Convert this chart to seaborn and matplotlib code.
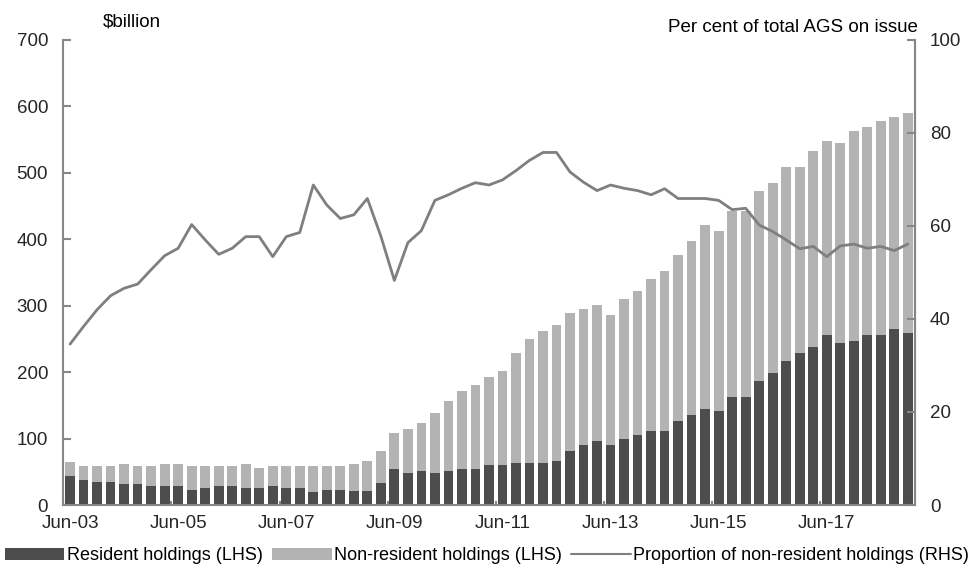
import numpy as np
import pandas as pd
import seaborn as sns
import matplotlib.pyplot as plt
from matplotlib.patches import Patch
from matplotlib.lines import Line2D

# quarterly, Jun-03 .. Dec-18
quarters = pd.date_range('2003-06-01', periods=63, freq='3MS')
quarter_labels = [d.strftime('%b-%y') for d in quarters]
tick_labels = ['Jun-03', 'Jun-05', 'Jun-07', 'Jun-09', 'Jun-11', 'Jun-13', 'Jun-15', 'Jun-17']

# $billion
resident = [43, 37, 34, 34, 31, 31, 28, 28, 28, 22, 25,
            28, 28, 25, 25, 28, 25, 25, 19, 22, 22, 21,
            21, 33, 54, 48, 51, 48, 51, 54, 54, 60, 60,
            63, 63, 63, 66, 81, 90, 96, 90, 99, 105,
            111, 111, 126, 135, 144, 141, 163, 163, 187, 199, 217,
            229, 238, 256, 244, 247, 256, 256, 265, 259]
non_resident = [21, 21, 24, 24, 30, 27, 30, 33, 33, 36, 33,
                30, 30, 36, 30, 30, 33, 33, 39, 36, 36, 40,
                45, 48, 54, 66, 72, 91, 106, 118, 127, 133, 142,
                166, 187, 199, 205, 208, 205, 205, 196, 211, 217,
                229, 241, 250, 263, 278, 272, 280, 280, 286, 286, 292,
                280, 295, 292, 301, 316, 313, 322, 319, 331]
# per cent of total AGS on issue
non_resident_share = [34.6, 38.4, 42.0, 45.0, 46.6, 47.5, 50.6, 53.6, 55.2, 60.3, 57.0,
                      53.9, 55.2, 57.7, 57.7, 53.4, 57.7, 58.6, 68.8, 64.5, 61.6, 62.4,
                      65.9, 57.8, 48.3, 56.4, 59.0, 65.5, 66.7, 68.1, 69.3, 68.8, 69.9,
                      71.9, 74.1, 75.8, 75.8, 71.6, 69.4, 67.6, 68.8, 68.1, 67.6,
                      66.7, 68.0, 65.9, 65.9, 65.9, 65.5, 63.5, 63.8, 60.2, 58.8, 57.0,
                      55.1, 55.6, 53.4, 55.7, 56.1, 55.2, 55.6, 54.7, 56.1]

df = pd.DataFrame({'quarter': quarter_labels, 'resident': resident,
                   'non_resident': non_resident, 'share': non_resident_share})
df['total'] = df['resident'] + df['non_resident']
df['pos'] = np.arange(len(df))

dark = '#4d4d4d'
light = '#b3b3b3'
line_col = '#7f7f7f'
spine_col = '#868686'

sns.set_theme(style='white')
plt.rcParams['font.family'] = ['Liberation Sans', 'DejaVu Sans']
plt.rcParams['text.color'] = 'black'

fig = plt.figure(figsize=(9.74, 5.70), dpi=100)
ax = fig.add_axes([0.065, 0.114, 0.874, 0.816])

sns.barplot(data=df, x='quarter', y='total', color=light, saturation=1, width=0.72, linewidth=0, ax=ax)
sns.barplot(data=df, x='quarter', y='resident', color=dark, saturation=1, width=0.72, linewidth=0, ax=ax)

ax2 = ax.twinx()
sns.lineplot(data=df, x='pos', y='share', color=line_col, lw=2, ax=ax2)

ax.set_xlim(-0.5, len(df) - 0.5)
ax.set_ylim(0, 700)
ax2.set_ylim(0, 100)
ax.set_yticks(range(0, 701, 100))
ax2.set_yticks(range(0, 101, 20))
tick_pos = [quarter_labels.index(t) for t in tick_labels]
ax.set_xticks(tick_pos)
ax.set_xticklabels(tick_labels)
ax.set_xticks([p - 0.5 for p in tick_pos], minor=True)
ax.set_xlabel('')
ax.set_ylabel('')
ax2.set_xlabel('')
ax2.set_ylabel('')

for a in (ax, ax2):
    for s in a.spines.values():
        s.set_color(spine_col)
        s.set_linewidth(1.5)
    a.spines['top'].set_visible(False)
ax2.spines['left'].set_visible(False)
ax2.spines['bottom'].set_visible(False)

ax.tick_params(axis='y', left=True, direction='in', length=6, width=1.5, color=spine_col, pad=11, labelsize=13.5)
ax2.tick_params(axis='y', right=True, direction='in', length=6, width=1.5, color=spine_col, pad=11, labelsize=13.5)
ax.tick_params(axis='x', which='major', length=0, pad=7, labelsize=13.5)
ax.tick_params(axis='x', which='minor', bottom=True, direction='in', length=3, width=1.5, color=spine_col)

fig.text(103 / 974, 1 - 22 / 570, '\\$billion', fontsize=13.5, va='center', ha='left')
fig.text(918 / 974, 1 - 27 / 570, 'Per cent of total AGS on issue', fontsize=13.5, va='center', ha='right')

handles = [Patch(facecolor=dark, edgecolor='none'),
           Patch(facecolor=light, edgecolor='none'),
           Line2D([0], [0], color=line_col, lw=1.5)]
names = ['Resident holdings (LHS)', 'Non-resident holdings (LHS)',
         'Proportion of non-resident holdings (RHS)']
fig.legend(handles, names, loc='center', bbox_to_anchor=(0.5, 1 - 556 / 570), ncol=3,
           frameon=False, fontsize=13, handlelength=3.3, handleheight=0.6,
           handletextpad=0.15, columnspacing=0.5, borderaxespad=0, borderpad=0)

fig.savefig('out.png', dpi=100)
